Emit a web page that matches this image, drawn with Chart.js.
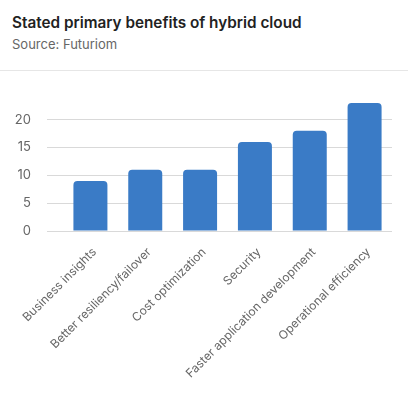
<!DOCTYPE html>
<html>
<head>
<meta charset="utf-8">
<script src="https://cdn.jsdelivr.net/npm/chart.js@4/dist/chart.umd.min.js"></script>
<style>
  html, body { margin: 0; padding: 0; background: #fff; width: 408px; height: 396px; overflow: hidden; font-family: Inter, "Liberation Sans", sans-serif; }
  #title { position: absolute; left: 12px; top: 13px; font-size: 15.3px; font-weight: 600; color: #222; white-space: nowrap; }
  #subtitle { position: absolute; left: 12px; top: 36px; font-size: 13px; color: #666; white-space: nowrap; }
  #sep { position: absolute; left: 0; top: 70px; width: 408px; height: 1px; background: #e6e6e6; }
  #wrap { position: absolute; left: 0; top: 72px; width: 408px; height: 324px; }
</style>
</head>
<body>
<div id="title">Stated primary benefits of hybrid cloud</div>
<div id="subtitle">Source: Futuriom</div>
<div id="sep"></div>
<div id="wrap"><canvas id="c" width="408" height="324"></canvas></div>
<script>
const categories = ["Business insights", "Better resiliency/failover", "Cost optimization", "Security", "Faster application development", "Operational efficiency"];
const values = [9, 11, 11, 16, 18, 23];
const yTicks = [0, 5, 10, 15, 20];

new Chart(document.getElementById('c'), {
  type: 'bar',
  data: {
    labels: categories,
    datasets: [{
      data: values,
      backgroundColor: '#3a7bc6',
      borderColor: '#3a7bc6',
      borderWidth: 0,
      borderRadius: 4,
      borderSkipped: 'start',
      categoryPercentage: 1,
      barPercentage: 0.62
    }]
  },
  options: {
    responsive: false,
    animation: false,
    devicePixelRatio: 1,
    layout: { padding: { left: 0, right: 16, top: 31, bottom: 0 } },
    plugins: { legend: { display: false }, tooltip: { enabled: false } },
    scales: {
      x: {
        grid: { display: false, drawTicks: false },
        border: { display: false },
        ticks: { font: { family: 'Inter', size: 12 }, color: '#666', minRotation: 45, maxRotation: 45, padding: 14, labelOffset: 4, autoSkip: false },
        afterFit: (s) => { s.paddingLeft = 0; s.height = 165; }
      },
      y: {
        min: 0,
        max: 23,
        grid: { color: '#d9d9d9', tickLength: 16, drawTicks: true },
        border: { display: false },
        afterBuildTicks: (axis) => { axis.ticks = yTicks.map(v => ({ value: v })); },
        afterFit: (s) => { s.width = 63; },
        ticks: { font: { family: 'Inter', size: 13 }, color: '#666', padding: 16 }
      }
    }
  }
});
</script>
</body>
</html>
